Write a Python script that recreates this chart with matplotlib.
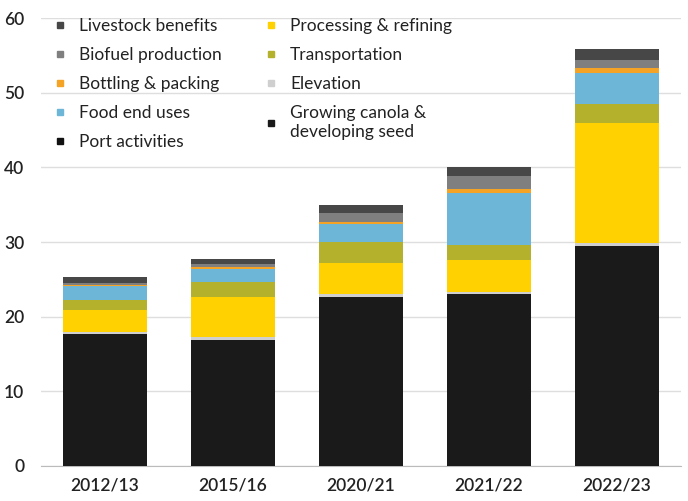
import matplotlib.pyplot as plt
from matplotlib.lines import Line2D

# canola value chain contributions by year
years = ['2012/13', '2015/16', '2020/21', '2021/22', '2022/23']

growing = [17.7, 16.9, 22.6, 23.1, 29.5]
elevation = [0.3, 0.35, 0.4, 0.25, 0.35]
processing = [2.9, 5.45, 4.25, 4.3, 16.05]
transportation = [1.3, 2.0, 2.75, 1.9, 2.6]
port = [0.0, 0.0, 0.0, 0.0, 0.0]
food = [1.85, 1.7, 2.4, 7.05, 4.1]
bottling = [0.2, 0.2, 0.3, 0.55, 0.7]
biofuel = [0.2, 0.5, 1.2, 1.7, 1.1]
livestock = [0.8, 0.6, 1.0, 1.2, 1.4]

plt.rcParams['font.family'] = ['Lato', 'DejaVu Sans']

fig = plt.figure(figsize=(6.88, 5.01), dpi=100)
ax = fig.add_axes([0.0596, 0.0699, 0.930, 0.894])

# stacked from the bottom up
stack = [
    (growing, '#1a1a1a'),
    (elevation, '#cfcfcf'),
    (processing, '#ffd100'),
    (transportation, '#b4b12c'),
    (port, '#111111'),
    (food, '#6db6d8'),
    (bottling, '#f4a324'),
    (biofuel, '#7f7f7f'),
    (livestock, '#474747'),
]
x = range(len(years))
bottom = [0.0] * len(years)
for vals, col in stack:
    ax.bar(x, vals, width=0.66, bottom=bottom, color=col, zorder=3)
    bottom = [b + v for b, v in zip(bottom, vals)]

ax.set_xlim(-0.5, 4.5)
ax.set_ylim(0, 60)
ax.set_yticks(range(0, 61, 10))
ax.set_xticks(list(x))
ax.set_xticklabels(years)
ax.tick_params(axis='both', length=0, labelsize=12.5, colors='#222222')
ax.tick_params(axis='y', pad=12)
ax.tick_params(axis='x', pad=8)
for t in ax.get_xticklabels() + ax.get_yticklabels():
    t.set_fontweight('semibold')
ax.grid(axis='y', color='#dedede', linewidth=1, zorder=0)
for s in ['top', 'right', 'left']:
    ax.spines[s].set_visible(False)
ax.spines['bottom'].set_color('#bbbbbb')

labels = ['Livestock benefits', 'Biofuel production', 'Bottling & packing',
          'Food end uses', 'Port activities', 'Processing & refining',
          'Transportation', 'Elevation', 'Growing canola &\ndeveloping seed']
colors = ['#474747', '#7f7f7f', '#f4a324', '#6db6d8', '#111111',
          '#ffd100', '#b4b12c', '#cfcfcf', '#1a1a1a']
handles = [Line2D([], [], marker='s', linestyle='none', markersize=5,
                  color=c) for c in colors]
leg = ax.legend(handles, labels, ncol=2, loc='upper left',
                bbox_to_anchor=(-0.005, 1.035), frameon=False, fontsize=12.5,
                handlelength=0.8, handletextpad=0.7, columnspacing=2.4,
                labelspacing=0.75)
for t in leg.get_texts():
    t.set_color('#222222')

fig.savefig('out.png', dpi=100)
